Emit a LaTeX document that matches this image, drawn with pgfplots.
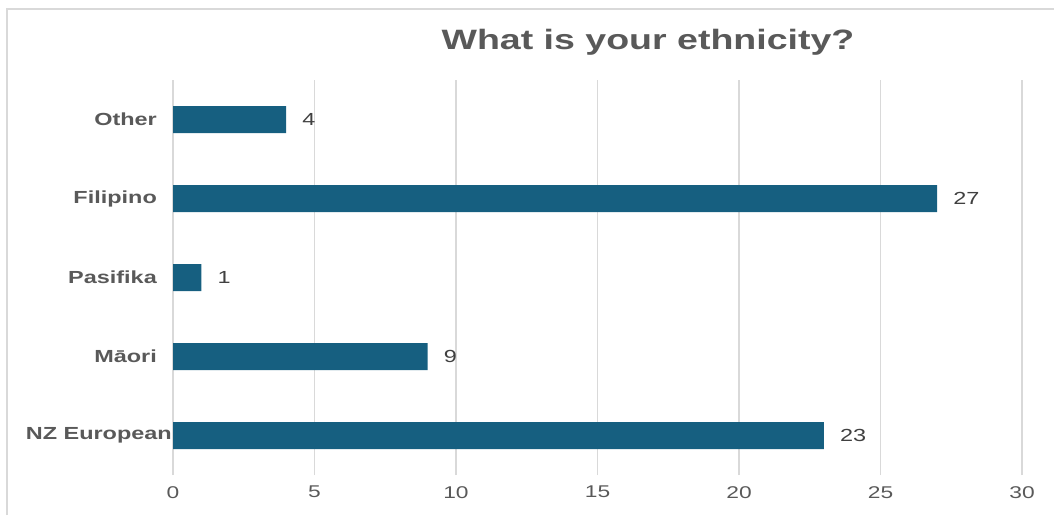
\documentclass[border=0pt]{standalone}
\usepackage{fontspec}
\setmainfont{Liberation Sans}[FakeStretch=1.34]
\usepackage{pgfplots}
\pgfplotsset{compat=1.18}

\definecolor{barblue}{HTML}{165F80}
\definecolor{titlegray}{HTML}{595959}
\definecolor{labelgray}{HTML}{595959}
\definecolor{valuegray}{HTML}{404040}
\definecolor{gridgray}{HTML}{D9D9D9}

\begin{document}
\begin{tikzpicture}[x=1pt,y=1pt]
  \path[use as bounding box] (0,0) rectangle (1054,515);
  % outer frame
  \draw[gridgray, line width=1.2pt] (7,0) -- (7,506) -- (1054,506);
  % title
  \node[text=titlegray, font=\fontsize{28}{34}\selectfont\bfseries]
    at (648,473) {What is your ethnicity?};
  \begin{axis}[
    at={(173pt,40pt)}, anchor=south west,
    scale only axis, width=849pt, height=395pt,
    xbar, bar width=27pt,
    xmin=0, xmax=30, ymin=-0.5, ymax=4.5,
    xtick={0,5,...,30},
    ytick={0,1,2,3,4},
    yticklabels={{NZ European\hspace*{-15pt}}, Māori, Pasifika, Filipino, Other},
    axis line style={draw=none},
    major tick length=0pt,
    xmajorgrids, major grid style={gridgray, line width=1.1pt},
    /pgf/number format/assume math mode=true,
    xticklabel style={text=labelgray, font=\fontsize{17}{20}\selectfont,
      anchor=north, inner sep=0pt, yshift=-11pt},
    yticklabel style={text=labelgray, font=\fontsize{17.5}{21}\selectfont\bfseries,
      anchor=east, inner sep=0pt, xshift=-16pt},
    nodes near coords,
    nodes near coords style={text=valuegray, font=\fontsize{17.5}{21}\selectfont,
      anchor=west, inner sep=0pt, xshift=16pt},
    clip=false,
  ]
    \addplot[fill=barblue, draw=none] coordinates {
      (23,0) (9,1) (1,2) (27,3) (4,4)
    };
  \end{axis}
\end{tikzpicture}
\end{document}
